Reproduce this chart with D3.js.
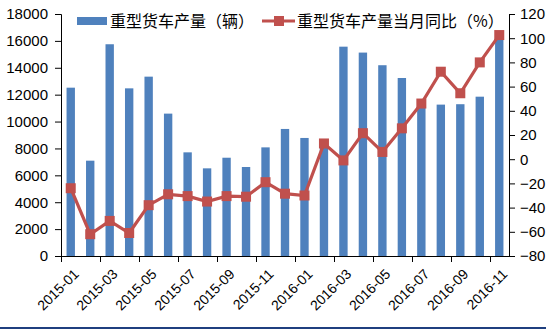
<!DOCTYPE html>
<html><head><meta charset="utf-8">
<script src="https://cdn.jsdelivr.net/npm/d3@7/dist/d3.min.js"></script>
<style>
body{margin:0;background:#fff;}
svg{display:block;}
text{font-family:"Liberation Sans",Arial,sans-serif;fill:#000;}
.cjk{font-family:"Noto Sans CJK SC","Liberation Sans",sans-serif;}
</style></head>
<body>
<script>
const months = ["2015-01","2015-02","2015-03","2015-04","2015-05","2015-06","2015-07","2015-08","2015-09","2015-10","2015-11","2015-12",
"2016-01","2016-02","2016-03","2016-04","2016-05","2016-06","2016-07","2016-08","2016-09","2016-10","2016-11"];
const production = [12520,7090,15750,12470,13340,10590,7710,6520,7310,6620,8080,9450,
8780,8100,15570,15130,14190,13240,11350,11260,11290,11850,16300];
const yoy = [-24,-62,-51,-61,-38,-29,-30.5,-35,-30.5,-31,-19,-28.5,
-30,13,-1,21.5,6,25.5,46,72.3,54.5,80,102.6];
const leftTicks = [0,2000,4000,6000,8000,10000,12000,14000,16000,18000];
const rightTicks = [-80,-60,-40,-20,0,20,40,60,80,100,120];
const seriesNames = ["重型货车产量（辆）","重型货车产量当月同比（%）"];

const W=559,H=329;
const L=61,R=509,T=14,B=256;
const svg=d3.select("body").append("svg").attr("width",W).attr("height",H);

const x=d3.scaleBand().domain(months).range([L,R]).padding(0);
const yL=d3.scaleLinear().domain([0,18000]).range([B,T]);
const yR=d3.scaleLinear().domain([-80,120]).range([B,T]);
const bw=x.bandwidth()*0.43;

// bars
svg.append("g").selectAll("rect").data(production).join("rect")
  .attr("x",(d,i)=>x(months[i])+x.bandwidth()/2-bw/2)
  .attr("y",d=>yL(d))
  .attr("width",bw)
  .attr("height",d=>B-yL(d))
  .attr("fill","#4F81BD");

// line
const cx=i=>x(months[i])+x.bandwidth()/2;
svg.append("path").datum(yoy)
  .attr("d",d3.line().x((d,i)=>cx(i)).y(d=>yR(d)))
  .attr("fill","none").attr("stroke","#C0504D").attr("stroke-width",3.2);
const ms=10;
svg.append("g").selectAll("rect").data(yoy).join("rect")
  .attr("x",(d,i)=>cx(i)-ms/2).attr("y",d=>yR(d)-ms/2)
  .attr("width",ms).attr("height",ms).attr("fill","#C0504D");

// left axis
const gl=svg.append("g").attr("transform",`translate(${L},0)`)
  .call(d3.axisLeft(yL).tickValues(leftTicks).tickSize(6).tickPadding(7).tickFormat(d3.format("d")));
gl.selectAll("text").attr("font-size",15).style("font-family","Liberation Sans, Arial, sans-serif");
// right axis
const gr=svg.append("g").attr("transform",`translate(${R},0)`)
  .call(d3.axisRight(yR).tickValues(rightTicks).tickSize(6).tickPadding(5));
gr.selectAll("text").attr("font-size",15).style("font-family","Liberation Sans, Arial, sans-serif");
[gl,gr].forEach(g=>{g.select(".domain").attr("stroke","#000");g.selectAll("line").attr("stroke","#000");});

// bottom axis
svg.append("line").attr("x1",L).attr("x2",R).attr("y1",B+0.5).attr("y2",B+0.5).attr("stroke","#000");
const tickIdx=d3.range(0,months.length,2);
svg.append("g").selectAll("line").data(tickIdx).join("line")
  .attr("x1",i=>Math.round(x(months[i]))+0.5).attr("x2",i=>Math.round(x(months[i]))+0.5)
  .attr("y1",B).attr("y2",B+6).attr("stroke","#000");
svg.append("g").selectAll("text").data(tickIdx).join("text")
  .attr("transform",i=>`translate(${cx(i)+2},${B+12}) rotate(-45)`)
  .attr("text-anchor","end").attr("dy","0.7em")
  .attr("font-size",14).text(i=>months[i]);

// legend
svg.append("rect").attr("x",77).attr("y",17).attr("width",30).attr("height",8).attr("fill","#4F81BD");
svg.append("text").attr("class","cjk").attr("x",110).attr("y",27).attr("font-size",16).text(seriesNames[0]);
svg.append("line").attr("x1",262).attr("x2",295).attr("y1",21).attr("y2",21).attr("stroke","#C0504D").attr("stroke-width",3.2);
svg.append("rect").attr("x",274).attr("y",16).attr("width",10).attr("height",10).attr("fill","#C0504D");
svg.append("text").attr("class","cjk").attr("x",297).attr("y",27).attr("font-size",16).text(seriesNames[1]);

// bottom border
svg.append("rect").attr("x",0).attr("y",327).attr("width",546).attr("height",2).attr("fill","#1F3F7F");
</script>
</body></html>
